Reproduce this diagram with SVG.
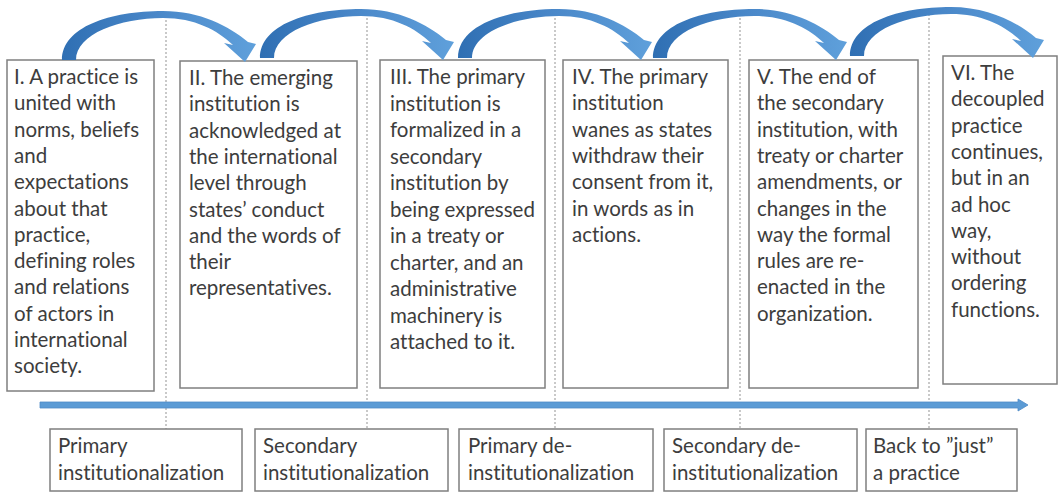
<svg xmlns="http://www.w3.org/2000/svg" width="1059" height="493" viewBox="0 0 1059 493">
<style>
.box{fill:#ffffff;stroke:#7f7f7f;stroke-width:1.5}
.t{font-family:Lato,"Liberation Sans",sans-serif;font-size:20.5px;fill:#3d3d3d;font-variant-ligatures:none;font-feature-settings:"liga" 0,"clig" 0}
.dot{stroke:#a6a6a6;stroke-width:1.2;stroke-dasharray:2 2;fill:none}
.arc{fill:url(#g)}
</style>
<defs>
<linearGradient id="g" x1="0" y1="0" x2="1" y2="0">
<stop offset="0" stop-color="#2f6fb3"/>
<stop offset="0.5" stop-color="#4a88c9"/>
<stop offset="1" stop-color="#5fa0db"/>
</linearGradient>
<path id="curve" d="M 62 60 C 62 27, 110 11, 163 11 C 200 11, 229 26, 248 42 L 256 44 L 245 62 L 224 43 L 233 45 C 217 30, 195 18, 163 18 C 120 18, 76 34, 76 60 Z"/>
</defs>
<rect width="1059" height="493" fill="#ffffff"/>
<g id="guides">
<line class="dot" x1="166" y1="12" x2="166" y2="429"/>
<line class="dot" x1="367" y1="10" x2="367" y2="429"/>
<line class="dot" x1="555" y1="10" x2="555" y2="429"/>
<line class="dot" x1="740" y1="10" x2="740" y2="429"/>
<line class="dot" x1="929" y1="10" x2="929" y2="429"/>
</g>
<g id="stage1"><rect class="box" x="7" y="60" width="147" height="331"/>
<text class="t" x="14" y="84"><tspan x="14">I. A practice is</tspan><tspan x="14" dy="26.3">united with</tspan><tspan x="14" dy="26.3">norms, beliefs</tspan><tspan x="14" dy="26.3">and</tspan><tspan x="14" dy="26.3">expectations</tspan><tspan x="14" dy="26.3">about that</tspan><tspan x="14" dy="26.3">practice,</tspan><tspan x="14" dy="26.3">defining roles</tspan><tspan x="14" dy="26.3">and relations</tspan><tspan x="14" dy="26.3">of actors in</tspan><tspan x="14" dy="26.3">international</tspan><tspan x="14" dy="26.3">society.</tspan></text></g>
<g id="stage2"><rect class="box" x="180" y="61" width="177" height="327"/>
<text class="t" x="189" y="85"><tspan x="189">II. The emerging</tspan><tspan x="189" dy="26.3">institution is</tspan><tspan x="189" dy="26.3">acknowledged at</tspan><tspan x="189" dy="26.3">the international</tspan><tspan x="189" dy="26.3">level through</tspan><tspan x="189" dy="26.3">states’ conduct</tspan><tspan x="189" dy="26.3">and the words of</tspan><tspan x="189" dy="26.3">their</tspan><tspan x="189" dy="26.3">representatives.</tspan></text></g>
<g id="stage3"><rect class="box" x="380" y="60" width="165" height="328"/>
<text class="t" x="390" y="84"><tspan x="390">III. The primary</tspan><tspan x="390" dy="26.5">institution is</tspan><tspan x="390" dy="26.5">formalized in a</tspan><tspan x="390" dy="26.5">secondary</tspan><tspan x="390" dy="26.5">institution by</tspan><tspan x="390" dy="26.5">being expressed</tspan><tspan x="390" dy="26.5">in a treaty or</tspan><tspan x="390" dy="26.5">charter, and an</tspan><tspan x="390" dy="26.5">administrative</tspan><tspan x="390" dy="26.5">machinery is</tspan><tspan x="390" dy="26.5">attached to it.</tspan></text></g>
<g id="stage4"><rect class="box" x="563" y="60" width="165" height="328"/>
<text class="t" x="572" y="84"><tspan x="572">IV. The primary</tspan><tspan x="572" dy="26.3">institution</tspan><tspan x="572" dy="26.3">wanes as states</tspan><tspan x="572" dy="26.3">withdraw their</tspan><tspan x="572" dy="26.3">consent from it,</tspan><tspan x="572" dy="26.3">in words as in</tspan><tspan x="572" dy="26.3">actions.</tspan></text></g>
<g id="stage5"><rect class="box" x="749" y="60" width="169" height="328"/>
<text class="t" x="757" y="84"><tspan x="757">V. The end of</tspan><tspan x="757" dy="26.3">the secondary</tspan><tspan x="757" dy="26.3">institution, with</tspan><tspan x="757" dy="26.3">treaty or charter</tspan><tspan x="757" dy="26.3">amendments, or</tspan><tspan x="757" dy="26.3">changes in the</tspan><tspan x="757" dy="26.3">way the formal</tspan><tspan x="757" dy="26.3">rules are re-</tspan><tspan x="757" dy="26.3">enacted in the</tspan><tspan x="757" dy="26.3">organization.</tspan></text></g>
<g id="stage6"><rect class="box" x="943" y="56" width="114" height="328"/>
<text class="t" x="951" y="80"><tspan x="951">VI. The</tspan><tspan x="951" dy="26.3">decoupled</tspan><tspan x="951" dy="26.3">practice</tspan><tspan x="951" dy="26.3">continues,</tspan><tspan x="951" dy="26.3">but in an</tspan><tspan x="951" dy="26.3">ad hoc</tspan><tspan x="951" dy="26.3">way,</tspan><tspan x="951" dy="26.3">without</tspan><tspan x="951" dy="26.3">ordering</tspan><tspan x="951" dy="26.3">functions.</tspan></text></g>
<g id="phase1"><rect class="box" x="50" y="429" width="192" height="62"/>
<text class="t" x="58" y="453"><tspan x="58">Primary</tspan><tspan x="58" dy="26.5">institutionalization</tspan></text></g>
<g id="phase2"><rect class="box" x="255" y="429" width="193" height="62"/>
<text class="t" x="263" y="453"><tspan x="263">Secondary</tspan><tspan x="263" dy="26.5">institutionalization</tspan></text></g>
<g id="phase3"><rect class="box" x="459" y="429" width="194" height="62"/>
<text class="t" x="468" y="453"><tspan x="468">Primary de-</tspan><tspan x="468" dy="26.5">institutionalization</tspan></text></g>
<g id="phase4"><rect class="box" x="664" y="429" width="193" height="62"/>
<text class="t" x="672" y="453"><tspan x="672">Secondary de-</tspan><tspan x="672" dy="26.5">institutionalization</tspan></text></g>
<g id="phase5"><rect class="box" x="866" y="429" width="151" height="62"/>
<text class="t" x="873" y="453"><tspan x="873">Back to ”just”</tspan><tspan x="873" dy="26.5">a practice</tspan></text></g>
<g id="connectors">
<use href="#curve" class="arc"/>
<use href="#curve" class="arc" transform="translate(198,-2)"/>
<use href="#curve" class="arc" transform="translate(396,-2)"/>
<use href="#curve" class="arc" transform="translate(591,-2)"/>
<use href="#curve" class="arc" transform="translate(788,-4)"/>
<path d="M 40 402 L 1018 402 L 1018 399 L 1028 405 L 1018 411 L 1018 408 L 40 408 Z" fill="#5b9bd5" stroke="#4f8ac7" stroke-width="0.8"/>
</g>
</svg>
